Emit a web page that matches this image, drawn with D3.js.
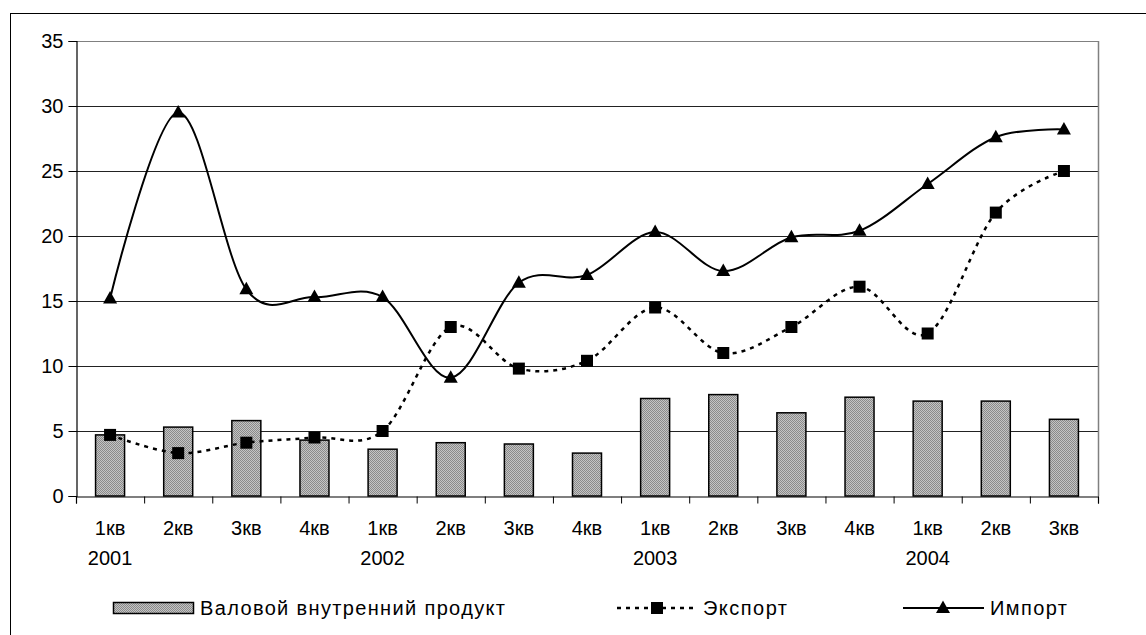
<!DOCTYPE html>
<html><head><meta charset="utf-8">
<script src="https://cdn.jsdelivr.net/npm/d3@7"></script>
<style>
html,body{margin:0;padding:0;background:#fff;}
svg{display:block;font-family:"Liberation Sans",Arial,sans-serif;}
</style></head>
<body>
<svg id="c" width="1146" height="635"></svg>
<script>
const quarters = ["1кв","2кв","3кв","4кв","1кв","2кв","3кв","4кв","1кв","2кв","3кв","4кв","1кв","2кв","3кв"];
const years = ["2001","","","","2002","","","","2003","","","","2004","",""];
const gdp = [4.7,5.3,5.8,4.3,3.6,4.1,4.0,3.3,7.5,7.8,6.4,7.6,7.3,7.3,5.9];
const exportVals = [4.7,3.3,4.1,4.5,5.0,13.0,9.8,10.4,14.5,11.0,13.0,16.1,12.5,21.8,25.0];
const importVals = [15.2,29.5,15.9,15.3,15.3,9.1,16.4,17.0,20.3,17.3,19.9,20.4,24.0,27.6,28.2];
const yTicks = [0,5,10,15,20,25,30,35];
const seriesNames = ["Валовой внутренний продукт","Экспорт","Импорт"];

const svg = d3.select("#c");
const L = 76, R = 1098, T = 41, B = 496;
const FS = 20;
const idx = d3.range(quarters.length);
const x = d3.scaleBand().domain(idx).range([L, R]).paddingInner(0).paddingOuter(0);
const y = d3.scaleLinear().domain([0, 35]).range([B, T]);
const cx = i => x(i) + x.bandwidth() / 2;

// pattern for bars
const defs = svg.append("defs");
const pat = defs.append("pattern").attr("id","dots").attr("width",2).attr("height",2).attr("patternUnits","userSpaceOnUse");
pat.append("rect").attr("width",2).attr("height",2).attr("fill","#c4c4c4");
pat.append("rect").attr("width",1).attr("height",1).attr("fill","#8a8a8a");
pat.append("rect").attr("x",1).attr("y",1).attr("width",1).attr("height",1).attr("fill","#8a8a8a");

// outer chart border
svg.append("rect").attr("x",10.5).attr("y",13.5).attr("width",1300).attr("height",800)
  .attr("fill","none").attr("stroke","#000").attr("stroke-width",1);

// gridlines
svg.append("g").selectAll("line").data(yTicks.filter(d => d > 0)).join("line")
  .attr("x1", L).attr("x2", R)
  .attr("y1", d => Math.round(y(d)) + 0.5).attr("y2", d => Math.round(y(d)) + 0.5)
  .attr("stroke", d => d === 35 ? "#808080" : "#222").attr("stroke-width", 1);
// right plot border
svg.append("line").attr("x1", R + 0.5).attr("x2", R + 0.5).attr("y1", T).attr("y2", B)
  .attr("stroke", "#808080").attr("stroke-width", 1.5);

// bars
const bw = 29;
svg.append("g").selectAll("rect").data(gdp).join("rect")
  .attr("x", (d, i) => cx(i) - bw / 2)
  .attr("y", d => y(d))
  .attr("width", bw)
  .attr("height", d => B - y(d))
  .attr("fill", "url(#dots)")
  .attr("stroke", "#000").attr("stroke-width", 1.5);

// y axis
const yAxis = svg.append("g").attr("transform", `translate(${L + 0.5},0)`)
  .call(d3.axisLeft(y).tickValues(yTicks).tickSize(8).tickPadding(5).tickFormat(d3.format("d")));
yAxis.select(".domain").attr("stroke", "#000").attr("stroke-width", 1.2);
yAxis.selectAll(".tick line").attr("stroke", "#000");
yAxis.selectAll(".tick text").attr("font-size", FS).attr("fill", "#000").attr("font-family", "Liberation Sans, Arial, sans-serif");

// x axis
const xb = d3.scaleLinear().domain([0, quarters.length]).range([L, R]);
const xAxis = svg.append("g").attr("transform", `translate(0,${B + 0.5})`)
  .call(d3.axisBottom(xb).tickValues(d3.range(quarters.length + 1)).tickSize(7).tickFormat(""));
xAxis.select(".domain").attr("stroke", "#000").attr("stroke-width", 1.2);
xAxis.selectAll(".tick line").attr("stroke", "#000");

// category labels
svg.append("g").selectAll("text").data(quarters).join("text")
  .attr("x", (d, i) => cx(i)).attr("y", 535)
  .attr("text-anchor", "middle").attr("font-size", FS).attr("fill", "#000")
  .text(d => d);
svg.append("g").selectAll("text").data(years).join("text")
  .attr("x", (d, i) => cx(i)).attr("y", 565)
  .attr("text-anchor", "middle").attr("font-size", FS).attr("fill", "#000")
  .text(d => d);

// lines
const lineGen = d3.line().x((d, i) => cx(i)).y(d => y(d)).curve(d3.curveCardinal.tension(0));
svg.append("path").datum(exportVals).attr("d", lineGen)
  .attr("fill", "none").attr("stroke", "#000").attr("stroke-width", 2.5).attr("stroke-dasharray", "4,5");
svg.append("path").datum(importVals).attr("d", lineGen)
  .attr("fill", "none").attr("stroke", "#000").attr("stroke-width", 2);

// markers
const sq = 12;
svg.append("g").selectAll("rect").data(exportVals).join("rect")
  .attr("x", (d, i) => cx(i) - sq / 2).attr("y", d => y(d) - sq / 2)
  .attr("width", sq).attr("height", sq).attr("fill", "#000");
const tri = (px, py) => `M${px},${py - 7.5}L${px + 7},${py + 5}L${px - 7},${py + 5}Z`;
svg.append("g").selectAll("path").data(importVals).join("path")
  .attr("d", (d, i) => tri(cx(i), y(d))).attr("fill", "#000");

// legend
const ly = 608;
const lg = svg.append("g").attr("font-size", FS).attr("fill", "#000");
lg.append("rect").attr("x", 113.5).attr("y", ly - 5.5).attr("width", 80).attr("height", 11)
  .attr("fill", "url(#dots)").attr("stroke", "#000").attr("stroke-width", 1.5);
lg.append("text").attr("x", 200).attr("y", ly + 7).attr("textLength", 305).attr("lengthAdjust", "spacing").text(seriesNames[0]);

lg.append("line").attr("x1", 617).attr("x2", 695).attr("y1", ly).attr("y2", ly)
  .attr("stroke", "#000").attr("stroke-width", 2.5).attr("stroke-dasharray", "4,5");
lg.append("rect").attr("x", 651).attr("y", ly - 6).attr("width", sq).attr("height", sq).attr("fill", "#000");
lg.append("text").attr("x", 703).attr("y", ly + 7).attr("textLength", 84).attr("lengthAdjust", "spacing").text(seriesNames[1]);

lg.append("line").attr("x1", 903).attr("x2", 984).attr("y1", ly).attr("y2", ly)
  .attr("stroke", "#000").attr("stroke-width", 2);
lg.append("path").attr("d", tri(943, ly)).attr("fill", "#000");
lg.append("text").attr("x", 990).attr("y", ly + 7).attr("textLength", 77).attr("lengthAdjust", "spacing").text(seriesNames[2]);
</script>
</body></html>
